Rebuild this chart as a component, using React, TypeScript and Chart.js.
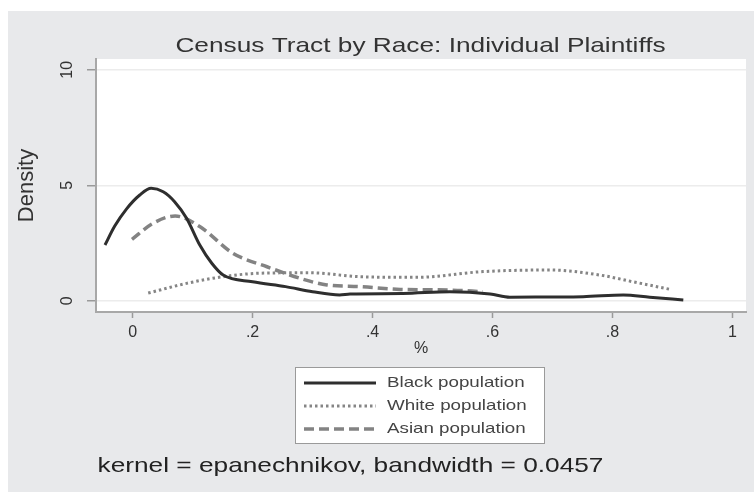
import React, { useEffect, useRef } from "react";
import { Chart, registerables } from "chart.js";

Chart.register(...registerables);

// ---- data ----
const chartTitle = "Census Tract by Race: Individual Plaintiffs";
const noteText = "kernel = epanechnikov, bandwidth = 0.0457";
const xAxisTitle = "%";
const yAxisTitle = "Density";
const seriesNames = ["Black population", "White population", "Asian population"];

const xTicks = [0, 0.2, 0.4, 0.6, 0.8, 1];
const xTickLabels = ["0", ".2", ".4", ".6", ".8", "1"];
const yTicks = [0, 5, 10];
const yTickLabels = ["0", "5", "10"];

const blackX = [-0.046, -0.03, -0.01, 0.012, 0.031, 0.051, 0.07, 0.09, 0.112, 0.132, 0.151, 0.2, 0.255, 0.3, 0.345, 0.3625, 0.45, 0.529, 0.596, 0.629, 0.696, 0.751, 0.818, 0.862, 0.918];
const blackY = [2.41, 3.22, 3.98, 4.58, 4.87, 4.72, 4.29, 3.57, 2.41, 1.62, 1.11, 0.82, 0.61, 0.39, 0.25, 0.29, 0.31, 0.39, 0.29, 0.15, 0.16, 0.17, 0.25, 0.15, 0.03];

const whiteX = [0.026, 0.09, 0.151, 0.2125, 0.296, 0.379, 0.474, 0.584, 0.696, 0.779, 0.834, 0.896];
const whiteY = [0.33, 0.75, 1.04, 1.19, 1.21, 1.04, 1.01, 1.26, 1.33, 1.11, 0.82, 0.49];

const asianX = [-0.001, 0.034, 0.071, 0.1125, 0.1675, 0.224, 0.279, 0.324, 0.379, 0.446, 0.529, 0.584];
const asianY = [2.66, 3.35, 3.67, 3.2, 2.05, 1.47, 0.97, 0.68, 0.61, 0.49, 0.46, 0.39];

const X_MIN = -0.061;
const X_MAX = 1.0225;
const Y_MIN = -0.49;
const Y_MAX = 10.47;

const toPoints = (xs: number[], ys: number[]) => xs.map((x, i) => ({ x, y: ys[i] }));

const colors = ["#2e2e2e", "#858585", "#838383"];
const widths = [3, 3, 3.5];
const dashes: number[][] = [[], [2.5, 3], [10, 5]];

const W = 754;
const H = 492;
const FONT = "'Liberation Sans', Arial, Helvetica, sans-serif";
const STRETCH = 1.25;

function stretchedText(ctx: CanvasRenderingContext2D, text: string, x: number, y: number, align: "left" | "center") {
  ctx.save();
  ctx.translate(x, y);
  ctx.scale(STRETCH, 1);
  ctx.textAlign = align;
  ctx.fillText(text, 0, 0);
  ctx.restore();
}

const backgroundPlugin = {
  id: "stataBackground",
  beforeDraw(chart: any) {
    const { ctx, chartArea } = chart;
    ctx.save();
    ctx.fillStyle = "#ffffff";
    ctx.fillRect(0, 0, W, H);
    ctx.fillStyle = "#e8e9eb";
    ctx.fillRect(8, 11, W - 8, H - 11);
    ctx.fillStyle = "#ffffff";
    ctx.fillRect(chartArea.left, chartArea.top, chartArea.right - chartArea.left, chartArea.bottom - chartArea.top);
    ctx.restore();
  },
};

const textPlugin = {
  id: "stataTexts",
  afterDraw(chart: any) {
    const { ctx } = chart;
    const yScale = chart.scales.y;
    ctx.save();
    // title
    ctx.fillStyle = "#333333";
    ctx.font = `21px ${FONT}`;
    ctx.textBaseline = "alphabetic";
    stretchedText(ctx, chartTitle, 420.5, 52, "center");

    // rotated y tick labels
    ctx.font = `16px ${FONT}`;
    ctx.fillStyle = "#333333";
    yTicks.forEach((v, i) => {
      const py = yScale.getPixelForValue(v);
      ctx.save();
      ctx.translate(68, py);
      ctx.rotate(-Math.PI / 2);
      ctx.textAlign = "center";
      ctx.textBaseline = "middle";
      ctx.fillText(yTickLabels[i], 0, 0);
      ctx.restore();
    });

    // legend
    const bx = 295.5, by = 367.5, bw = 249, bh = 76;
    ctx.fillStyle = "#ffffff";
    ctx.fillRect(bx, by, bw, bh);
    ctx.strokeStyle = "#9a9a9a";
    ctx.lineWidth = 1;
    ctx.strokeRect(bx, by, bw, bh);
    const rows = [383, 406, 429];
    seriesNames.forEach((name, i) => {
      ctx.save();
      ctx.strokeStyle = colors[i];
      ctx.lineWidth = widths[i];
      ctx.setLineDash(dashes[i]);
      ctx.beginPath();
      ctx.moveTo(304, rows[i]);
      ctx.lineTo(376, rows[i]);
      ctx.stroke();
      ctx.restore();
      ctx.fillStyle = "#444444";
      ctx.font = `15px ${FONT}`;
      ctx.textBaseline = "middle";
      stretchedText(ctx, name, 387, rows[i], "left");
    });

    // note
    ctx.fillStyle = "#222222";
    ctx.font = `21px ${FONT}`;
    ctx.textBaseline = "alphabetic";
    stretchedText(ctx, noteText, 350.5, 472, "center");
    ctx.restore();
  },
};

export default function App() {
  const ref = useRef<HTMLCanvasElement>(null);

  useEffect(() => {
    document.body.style.margin = "0";
    const canvas = ref.current;
    if (!canvas) return;
    const chart = new Chart(canvas, {
      type: "line",
      data: {
        datasets: [
          { label: seriesNames[0], data: toPoints(blackX, blackY) },
          { label: seriesNames[1], data: toPoints(whiteX, whiteY) },
          { label: seriesNames[2], data: toPoints(asianX, asianY) },
        ].map((d, i) => ({
          ...d,
          borderColor: colors[i],
          backgroundColor: colors[i],
          borderWidth: widths[i],
          borderDash: dashes[i],
          pointRadius: 0,
          fill: false,
          cubicInterpolationMode: "monotone" as const,
          borderCapStyle: "butt" as const,
        })),
      },
      options: {
        animation: false,
        responsive: false,
        maintainAspectRatio: false,
        layout: { padding: { left: 8, top: 59, right: 8, bottom: 130 } },
        plugins: {
          legend: { display: false },
          title: { display: false },
          tooltip: { enabled: false },
        },
        scales: {
          x: {
            type: "linear",
            min: X_MIN,
            max: X_MAX,
            afterBuildTicks: (scale: any) => {
              scale.ticks = xTicks.map((v) => ({ value: v }));
            },
            afterFit: (scale: any) => {
              scale.height = 50;
            },
            ticks: {
              color: "#333333",
              font: { family: FONT, size: 16 },
              padding: 5,
              maxRotation: 0,
              autoSkip: false,
              callback: (_v: any, i: number) => xTickLabels[i],
            },
            grid: {
              drawOnChartArea: false,
              drawTicks: true,
              tickLength: 6,
              tickColor: "#9a9a9a",
              tickWidth: 1.5,
            },
            border: { display: true, color: "#a8a8a8", width: 2 },
            title: {
              display: true,
              text: xAxisTitle,
              color: "#333333",
              font: { family: FONT, size: 16 },
              padding: { top: 0, bottom: 4 },
            },
          },
          y: {
            type: "linear",
            min: Y_MIN,
            max: Y_MAX,
            afterBuildTicks: (scale: any) => {
              scale.ticks = yTicks.map((v) => ({ value: v }));
            },
            afterFit: (scale: any) => {
              scale.width = 88;
            },
            ticks: { display: false },
            grid: {
              drawOnChartArea: true,
              color: "#ececec",
              lineWidth: 1.5,
              drawTicks: true,
              tickLength: 9,
              tickColor: "#9a9a9a",
              tickWidth: 1.5,
            },
            border: { display: true, color: "#a8a8a8", width: 2 },
            title: {
              display: true,
              text: yAxisTitle,
              color: "#333333",
              font: { family: FONT, size: 22 },
              padding: { top: 6, bottom: 0 },
            },
          },
        },
      },
      plugins: [backgroundPlugin, textPlugin],
    });
    return () => chart.destroy();
  }, []);

  return (
    <div style={{ width: W, height: H, position: "relative" }}>
      <canvas ref={ref} width={W} height={H} style={{ display: "block", width: W, height: H }} />
    </div>
  );
}
